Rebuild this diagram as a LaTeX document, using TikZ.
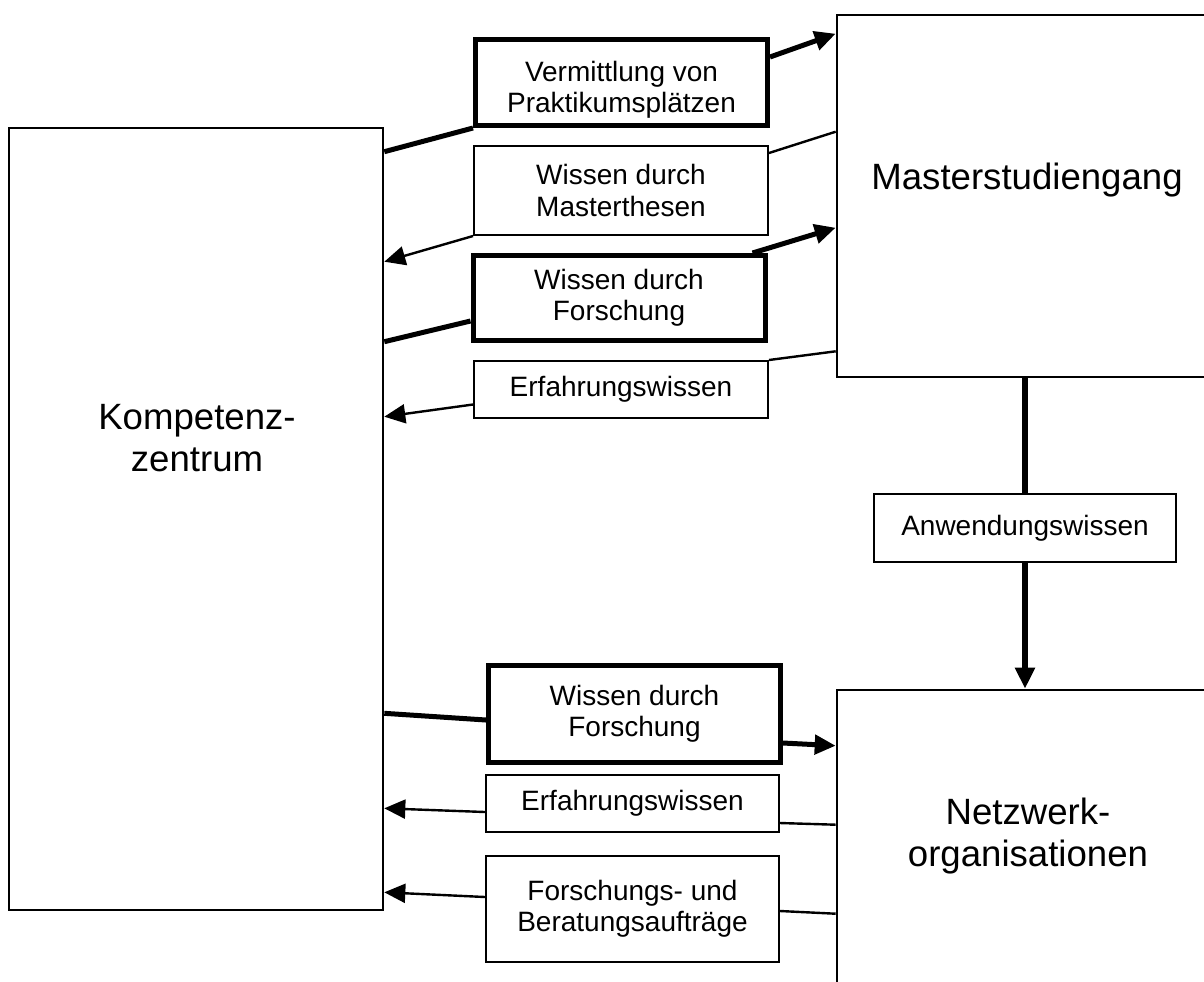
\documentclass[tikz,border=0pt]{standalone}
\usepackage{fontspec}
\setmainfont{Liberation Sans}
\usetikzlibrary{arrows.meta,positioning}

\begin{document}
\begin{tikzpicture}[x=0.5pt,y=-0.5pt,font=\fontsize{14}{15.6}\selectfont,
  box/.style={draw,line width=1pt,align=center,inner sep=0pt,minimum width=147pt},
  keybox/.style={box,line width=2.5pt,minimum width=146pt},
  frame/.style={draw,line width=1.3pt,inner sep=0pt},
  frametxt/.style={align=center,font=\fontsize{18.3}{21.3}\selectfont},
  link/.style={line width=1.2pt},flow/.style={line width=2.5pt},spine/.style={line width=3pt},
  >={Triangle[length=10.5pt,width=9.5pt]}]
\useasboundingbox (0,0) rectangle (1204,981);
\node[frame,minimum width=187pt,minimum height=391pt] (komp) at (196,519) {};
\node[frame,minimum width=188pt,minimum height=181pt] (master) at (1025,196) {};
\node[frame,minimum width=188pt,minimum height=148pt] (netz) at (1025,838) {};
\node[frametxt] (kompt) at ([shift={(1,-81)}]komp.center) {Kompetenz-\\zentrum};
\node[frametxt] (mastert) at ([shift={(2,-16)}]master.center) {Masterstudiengang};
\node[frametxt] (netzt) at ([shift={(3,-2)}]netz.center) {Netzwerk-\\organisationen};
\node[keybox,minimum height=43pt] (verm) at (621.5,82.5) {\rule{0pt}{17pt}Vermittlung von\\Praktikumsplätzen};
\node[box,minimum height=44.5pt] (these) at (621,190.5) {Wissen durch\\Masterthesen};
\node[keybox,minimum height=42.5pt] (forsch) at (619,298) {Wissen durch\\Forschung};
\node[box,minimum height=28.5pt] (erf) at (621,389.5) {Erfahrungswissen};
\node[box,minimum width=151pt,minimum height=34pt] (anw) at (1025,528) {Anwendungswissen};
\node[keybox,minimum height=48.5pt] (forschnetz) at (634.5,714) {Wissen durch\\Forschung};
\node[box,minimum width=146.5pt,minimum height=28.5pt] (erfnetz) at (632.5,803.5) {Erfahrungswissen};
\node[box,minimum width=146.5pt,minimum height=53pt] (auftr) at (632.5,909) {Forschungs- und\\Beratungsaufträge};
\draw[flow] ([shift={(0,25)}]komp.north east)--(verm.south west);
\draw[flow,->] ([shift={(0,-25.5)}]verm.east)--([shift={(0,20)}]master.north west);
\draw[link] ([shift={(0,118)}]master.north west)--([shift={(0,8)}]these.north east);
\draw[link,->] (these.south west)--([shift={(0,135)}]komp.north east);
\draw[flow] ([shift={(0,215)}]komp.north east)--([shift={(0,23)}]forsch.west);
\draw[flow,->] ([shift={(-15,0)}]forsch.north east)--([shift={(0,214)}]master.north west);
\draw[link] (erf.north east)--([shift={(0,-27)}]master.south west);
\draw[link,->] ([shift={(0,15)}]erf.west)--([shift={(0,290)}]komp.north east);
\draw[spine] (master.south)--(anw.north);\draw[spine,->] (anw.south)--(netz.north);
\draw[flow] ([shift={(0,-198)}]komp.south east)--([shift={(0,6)}]forschnetz.west);
\draw[flow,->] ([shift={(0,29)}]forschnetz.east)--([shift={(0,57)}]netz.north west);
\draw[link] ([shift={(0,19.5)}]erfnetz.east)--([shift={(0,136)}]netz.north west);
\draw[link,->] ([shift={(0,8.5)}]erfnetz.west)--([shift={(0,-103)}]komp.south east);
\draw[link] ([shift={(0,2)}]auftr.east)--([shift={(0,225)}]netz.north west);
\draw[link,->] ([shift={(0,-12)}]auftr.west)--([shift={(0,-19)}]komp.south east);
\end{tikzpicture}
\end{document}
